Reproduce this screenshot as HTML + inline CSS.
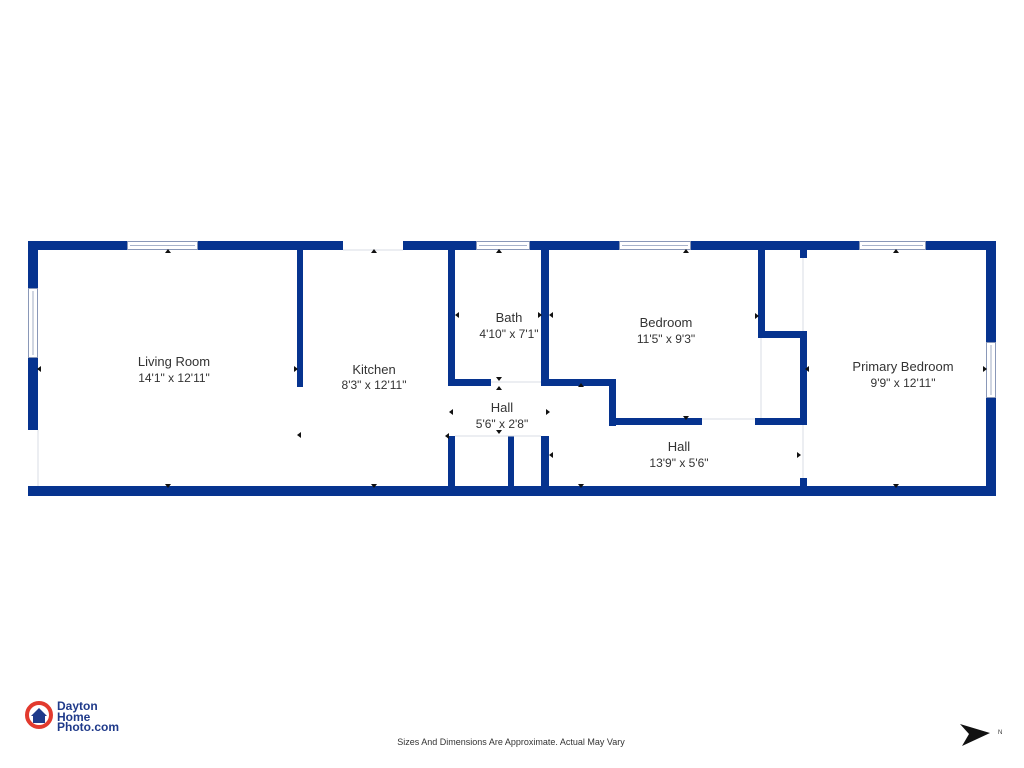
<!DOCTYPE html>
<html><head><meta charset="utf-8"><style>
html,body{margin:0;padding:0;background:#fff;}
svg{display:block}
text{font-family:"Liberation Sans",sans-serif;}
</style></head><body>
<svg width="1024" height="768" viewBox="0 0 1024 768" xmlns="http://www.w3.org/2000/svg">
<rect width="1024" height="768" fill="#fff"/>
<g fill="#06338f">
<!-- top wall -->
<rect x="28" y="241" width="99" height="9"/>
<rect x="198" y="241" width="145" height="9"/>
<rect x="403" y="241" width="73" height="9"/>
<rect x="530" y="241" width="89" height="9"/>
<rect x="691" y="241" width="168" height="9"/>
<rect x="926" y="241" width="70" height="9"/>
<!-- bottom wall -->
<rect x="28" y="486" width="968" height="10"/>
<!-- left wall -->
<rect x="28" y="241" width="10" height="47"/>
<rect x="28" y="358" width="10" height="72"/>
<!-- right wall -->
<rect x="986" y="241" width="10" height="101"/>
<rect x="986" y="398" width="10" height="98"/>
<!-- living/kitchen -->
<rect x="297" y="250" width="6" height="137"/>
<!-- bath -->
<rect x="448" y="250" width="7" height="136"/>
<rect x="448" y="379" width="43" height="7"/>
<rect x="541" y="250" width="8" height="136"/>
<rect x="541" y="379" width="74" height="7"/>
<!-- bedroom step -->
<rect x="609" y="379" width="7" height="47"/>
<rect x="609" y="418" width="93" height="7"/>
<rect x="755" y="418" width="52" height="7"/>
<rect x="758" y="250" width="7" height="88"/>
<rect x="758" y="331" width="49" height="7"/>
<rect x="800" y="331" width="7" height="94"/>
<rect x="800" y="250" width="7" height="8"/>
<rect x="800" y="478" width="7" height="10"/>
<!-- lower hall -->
<rect x="448" y="436" width="7" height="52"/>
<rect x="508" y="436" width="6" height="52"/>
<rect x="541" y="436" width="8" height="52"/>
</g>
<!-- windows -->
<g fill="#fff" stroke="#8a98b8" stroke-width="1">
<rect x="127.5" y="241.5" width="70" height="8"/>
<rect x="476.5" y="241.5" width="53" height="8"/>
<rect x="619.5" y="241.5" width="71" height="8"/>
<rect x="859.5" y="241.5" width="66" height="8"/>
<rect x="28.5" y="288.5" width="9" height="69"/>
<rect x="986.5" y="342.5" width="9" height="55"/>
</g>
<g stroke="#8a98b8" stroke-width="0.8">
<line x1="130" y1="245.5" x2="195" y2="245.5"/>
<line x1="479" y1="245.5" x2="527" y2="245.5"/>
<line x1="622" y1="245.5" x2="688" y2="245.5"/>
<line x1="862" y1="245.5" x2="923" y2="245.5"/>
<line x1="33" y1="291" x2="33" y2="355"/>
<line x1="991" y1="345" x2="991" y2="395"/>
</g>
<!-- thin door lines -->
<g stroke="#d8dce6" stroke-width="1">
<line x1="343" y1="250" x2="403" y2="250"/>
<line x1="38" y1="430" x2="38" y2="486"/>
<line x1="491" y1="382" x2="541" y2="382"/>
<line x1="455" y1="436" x2="541" y2="436"/>
<line x1="702" y1="419" x2="755" y2="419"/>
<line x1="761" y1="338" x2="761" y2="418"/>
<line x1="803" y1="258" x2="803" y2="331"/>
<line x1="803" y1="425" x2="803" y2="478"/>
</g>
<!-- markers -->
<g fill="#111">
<polygon points="165,253 168,249 171,253"/><polygon points="165,484 168,488 171,484"/>
<polygon points="371,253 374,249 377,253"/><polygon points="371,484 374,488 377,484"/>
<polygon points="41,366 37,369 41,372"/><polygon points="294,366 298,369 294,372"/>
<polygon points="301,432 297,435 301,438"/>
<polygon points="496,253 499,249 502,253"/><polygon points="496,377 499,381 502,377"/>
<polygon points="459,312 455,315 459,318"/><polygon points="538,312 542,315 538,318"/>
<polygon points="553,312 549,315 553,318"/>
<polygon points="683,253 686,249 689,253"/><polygon points="683,416 686,420 689,416"/>
<polygon points="755,313 759,316 755,319"/><polygon points="578,387 581,383 584,387"/>
<polygon points="496,390 499,386 502,390"/><polygon points="496,430 499,434 502,430"/>
<polygon points="453,409 449,412 453,415"/><polygon points="546,409 550,412 546,415"/>
<polygon points="553,452 549,455 553,458"/><polygon points="797,452 801,455 797,458"/>
<polygon points="578,484 581,488 584,484"/>
<polygon points="893,253 896,249 899,253"/><polygon points="893,484 896,488 899,484"/>
<polygon points="809,366 805,369 809,372"/><polygon points="983,366 987,369 983,372"/>
<polygon points="449,433 445,436 449,439"/>
</g>
<!-- labels -->
<g fill="#333" font-size="13" text-anchor="middle">
<text x="174" y="366">Living Room</text><text x="174" y="382" font-size="12">14'1" x 12'11"</text>
<text x="374" y="374">Kitchen</text><text x="374" y="389" font-size="12">8'3" x 12'11"</text>
<text x="509" y="322">Bath</text><text x="509" y="338" font-size="12">4'10" x 7'1"</text>
<text x="666" y="327">Bedroom</text><text x="666" y="343" font-size="12">11'5" x 9'3"</text>
<text x="502" y="412">Hall</text><text x="502" y="428" font-size="12">5'6" x 2'8"</text>
<text x="679" y="451">Hall</text><text x="679" y="467" font-size="12">13'9" x 5'6"</text>
<text x="903" y="371">Primary Bedroom</text><text x="903" y="387" font-size="12">9'9" x 12'11"</text>
<text x="511" y="745" font-size="9">Sizes And Dimensions Are Approximate. Actual May Vary</text>
</g>
<!-- logo -->
<circle cx="39" cy="715" r="12" fill="none" stroke="#e23a2e" stroke-width="4"/>
<circle cx="39" cy="715" r="8" fill="#fff"/>
<polygon points="31,716 39,708 47,716 45,716 45,723 33,723 33,716" fill="#1f3a8a"/>
<g fill="#1f3a8a" font-size="12" font-weight="bold">
<text x="57" y="710">Dayton</text><text x="57" y="721">Home</text><text x="57" y="731">Photo.com</text>
</g>
<!-- compass -->
<polygon points="960,724 990,733 962,746 969,734" fill="#111"/>
<text x="998" y="734" font-size="6" fill="#333">N</text>
</svg>
</body></html>
